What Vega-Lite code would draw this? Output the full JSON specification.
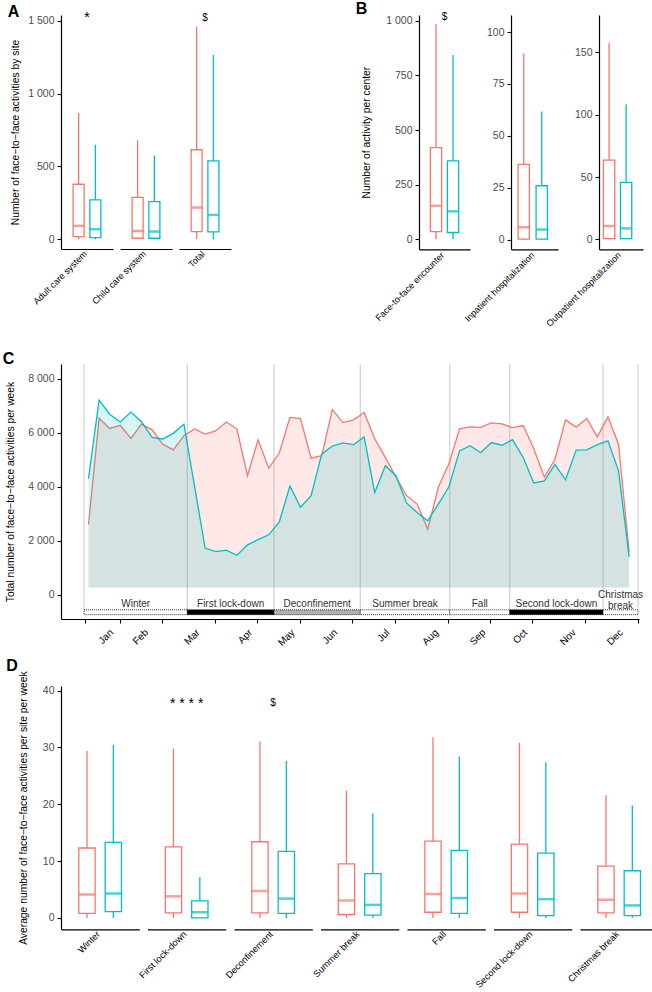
{
  "$schema": "https://vega.github.io/schema/vega-lite/v6.json",
  "padding": {"left": 2, "top": 1, "right": 0, "bottom": 0},
  "config": {
    "view": {"stroke": null},
    "font": "Liberation Sans",
    "axis": {"domainColor": "black", "domainWidth": 1.2, "tickColor": "black", "tickWidth": 1.1, "tickSize": 4, "labelColor": "#4D4D4D", "labelFontSize": 10.5, "labelPadding": 3, "titleColor": "black", "titleFontWeight": "normal", "titleFontSize": 10.3, "grid": false},
    "axisBand": {"labels": false, "ticks": false, "domain": true, "titleAngle": -45, "titleAlign": "right", "titleBaseline": "alphabetic", "titleAnchor": "middle", "titleFontSize": 9, "titleColor": "black", "titlePadding": 5},
    "title": {"fontSize": 16, "fontWeight": "bold", "anchor": "start", "frame": "bounds", "color": "black"}
  },
  "datasets": {
    "A": [
      {"group": "Adult care system", "series": "2019", "min": 0, "q1": 18, "median": 92, "q3": 378, "max": 867, "sig": "*"},
      {"group": "Adult care system", "series": "2020", "min": 0, "q1": 11, "median": 69, "q3": 271, "max": 649, "sig": ""},
      {"group": "Child care system", "series": "2019", "min": 0, "q1": 7, "median": 57, "q3": 287, "max": 681, "sig": ""},
      {"group": "Child care system", "series": "2020", "min": 0, "q1": 7, "median": 53, "q3": 259, "max": 575, "sig": ""},
      {"group": "Total", "series": "2019", "min": 0, "q1": 53, "median": 218, "q3": 615, "max": 1461, "sig": "$"},
      {"group": "Total", "series": "2020", "min": 0, "q1": 50, "median": 167, "q3": 539, "max": 1266, "sig": ""}
    ],
    "B": [
      {"panel": "Face-to-face encounter", "series": "2019", "min": 0, "q1": 35, "median": 153, "q3": 420, "max": 986, "sig": "$"},
      {"panel": "Face-to-face encounter", "series": "2020", "min": 0, "q1": 31, "median": 128, "q3": 359, "max": 844, "sig": ""},
      {"panel": "Inpatient hospitalization", "series": "2019", "min": 0, "q1": 0.3, "median": 6.0, "q3": 36.3, "max": 89.8, "sig": ""},
      {"panel": "Inpatient hospitalization", "series": "2020", "min": 0, "q1": 0.3, "median": 4.9, "q3": 26.0, "max": 61.8, "sig": ""},
      {"panel": "Outpatient hospitalization", "series": "2019", "min": 0, "q1": 0.5, "median": 10.7, "q3": 63.6, "max": 157.8, "sig": ""},
      {"panel": "Outpatient hospitalization", "series": "2020", "min": 0, "q1": 0.5, "median": 8.8, "q3": 45.7, "max": 108.3, "sig": ""}
    ],
    "C": [
      {"week": 1, "series": "2019", "value": 2600}, {"week": 2, "series": "2019", "value": 6540}, {"week": 3, "series": "2019", "value": 6160}, {"week": 4, "series": "2019", "value": 6280},
      {"week": 5, "series": "2019", "value": 5790}, {"week": 6, "series": "2019", "value": 6320}, {"week": 7, "series": "2019", "value": 6110}, {"week": 8, "series": "2019", "value": 5580},
      {"week": 9, "series": "2019", "value": 5370}, {"week": 10, "series": "2019", "value": 5890}, {"week": 11, "series": "2019", "value": 6140}, {"week": 12, "series": "2019", "value": 5950},
      {"week": 13, "series": "2019", "value": 6070}, {"week": 14, "series": "2019", "value": 6400}, {"week": 15, "series": "2019", "value": 6140}, {"week": 16, "series": "2019", "value": 4410},
      {"week": 17, "series": "2019", "value": 5740}, {"week": 18, "series": "2019", "value": 4690}, {"week": 19, "series": "2019", "value": 5250}, {"week": 20, "series": "2019", "value": 6570},
      {"week": 21, "series": "2019", "value": 6530}, {"week": 22, "series": "2019", "value": 5060}, {"week": 23, "series": "2019", "value": 5150}, {"week": 24, "series": "2019", "value": 6860},
      {"week": 25, "series": "2019", "value": 6380}, {"week": 26, "series": "2019", "value": 6480}, {"week": 27, "series": "2019", "value": 6750}, {"week": 28, "series": "2019", "value": 5780},
      {"week": 29, "series": "2019", "value": 5090}, {"week": 30, "series": "2019", "value": 4370}, {"week": 31, "series": "2019", "value": 3670}, {"week": 32, "series": "2019", "value": 3360},
      {"week": 33, "series": "2019", "value": 2430}, {"week": 34, "series": "2019", "value": 3980}, {"week": 35, "series": "2019", "value": 4850}, {"week": 36, "series": "2019", "value": 6150},
      {"week": 37, "series": "2019", "value": 6220}, {"week": 38, "series": "2019", "value": 6200}, {"week": 39, "series": "2019", "value": 6370}, {"week": 40, "series": "2019", "value": 6330},
      {"week": 41, "series": "2019", "value": 6190}, {"week": 42, "series": "2019", "value": 6270}, {"week": 43, "series": "2019", "value": 5420}, {"week": 44, "series": "2019", "value": 4360},
      {"week": 45, "series": "2019", "value": 5010}, {"week": 46, "series": "2019", "value": 6480}, {"week": 47, "series": "2019", "value": 6210}, {"week": 48, "series": "2019", "value": 6530},
      {"week": 49, "series": "2019", "value": 5850}, {"week": 50, "series": "2019", "value": 6590}, {"week": 51, "series": "2019", "value": 5580}, {"week": 52, "series": "2019", "value": 1600},
      {"week": 1, "series": "2020", "value": 4300}, {"week": 2, "series": "2020", "value": 7210}, {"week": 3, "series": "2020", "value": 6690}, {"week": 4, "series": "2020", "value": 6400},
      {"week": 5, "series": "2020", "value": 6770}, {"week": 6, "series": "2020", "value": 6410}, {"week": 7, "series": "2020", "value": 5830}, {"week": 8, "series": "2020", "value": 5770},
      {"week": 9, "series": "2020", "value": 5980}, {"week": 10, "series": "2020", "value": 6320}, {"week": 11, "series": "2020", "value": 4030}, {"week": 12, "series": "2020", "value": 1730},
      {"week": 13, "series": "2020", "value": 1600}, {"week": 14, "series": "2020", "value": 1650}, {"week": 15, "series": "2020", "value": 1460}, {"week": 16, "series": "2020", "value": 1850},
      {"week": 17, "series": "2020", "value": 2040}, {"week": 18, "series": "2020", "value": 2220}, {"week": 19, "series": "2020", "value": 2700}, {"week": 20, "series": "2020", "value": 4030},
      {"week": 21, "series": "2020", "value": 3240}, {"week": 22, "series": "2020", "value": 3670}, {"week": 23, "series": "2020", "value": 5210}, {"week": 24, "series": "2020", "value": 5510},
      {"week": 25, "series": "2020", "value": 5630}, {"week": 26, "series": "2020", "value": 5560}, {"week": 27, "series": "2020", "value": 5850}, {"week": 28, "series": "2020", "value": 3780},
      {"week": 29, "series": "2020", "value": 4780}, {"week": 30, "series": "2020", "value": 4410}, {"week": 31, "series": "2020", "value": 3400}, {"week": 32, "series": "2020", "value": 3050},
      {"week": 33, "series": "2020", "value": 2740}, {"week": 34, "series": "2020", "value": 3360}, {"week": 35, "series": "2020", "value": 4000}, {"week": 36, "series": "2020", "value": 5330},
      {"week": 37, "series": "2020", "value": 5520}, {"week": 38, "series": "2020", "value": 5260}, {"week": 39, "series": "2020", "value": 5640}, {"week": 40, "series": "2020", "value": 5540},
      {"week": 41, "series": "2020", "value": 5750}, {"week": 42, "series": "2020", "value": 5090}, {"week": 43, "series": "2020", "value": 4140}, {"week": 44, "series": "2020", "value": 4220},
      {"week": 45, "series": "2020", "value": 4830}, {"week": 46, "series": "2020", "value": 4260}, {"week": 47, "series": "2020", "value": 5360}, {"week": 48, "series": "2020", "value": 5370},
      {"week": 49, "series": "2020", "value": 5560}, {"week": 50, "series": "2020", "value": 5700}, {"week": 51, "series": "2020", "value": 4590}, {"week": 52, "series": "2020", "value": 1400}
    ],
    "periods": [
      {"name": "Winter", "start": 0.58, "end": 10.32, "kind": "open"},
      {"name": "First lock-down", "start": 10.32, "end": 18.5, "kind": "lock"},
      {"name": "Deconfinement", "start": 18.5, "end": 26.64, "kind": "deconf"},
      {"name": "Summer break", "start": 26.64, "end": 35.08, "kind": "open"},
      {"name": "Fall", "start": 35.08, "end": 40.74, "kind": "open"},
      {"name": "Second lock-down", "start": 40.74, "end": 49.54, "kind": "lock"},
      {"name": "Christmas\nbreak", "start": 49.54, "end": 52.84, "kind": "open"}
    ],
    "bounds": [{"pos": 0.58}, {"pos": 10.32}, {"pos": 18.5}, {"pos": 26.64}, {"pos": 35.08}, {"pos": 40.74}, {"pos": 49.54}, {"pos": 52.84}],
    "D": [
      {"group": "Winter", "series": "2019", "min": 0, "q1": 0.8, "median": 4.1, "q3": 12.3, "max": 29.4, "sig": ""},
      {"group": "Winter", "series": "2020", "min": 0, "q1": 1.1, "median": 4.3, "q3": 13.3, "max": 30.4, "sig": ""},
      {"group": "First lock-down", "series": "2019", "min": 0, "q1": 0.9, "median": 3.8, "q3": 12.5, "max": 29.8, "sig": "* * * *"},
      {"group": "First lock-down", "series": "2020", "min": 0, "q1": 0, "median": 1.0, "q3": 3.0, "max": 7.2, "sig": ""},
      {"group": "Deconfinement", "series": "2019", "min": 0, "q1": 0.9, "median": 4.75, "q3": 13.4, "max": 31.1, "sig": "$"},
      {"group": "Deconfinement", "series": "2020", "min": 0, "q1": 0.8, "median": 3.4, "q3": 11.7, "max": 27.6, "sig": ""},
      {"group": "Summer break", "series": "2019", "min": 0, "q1": 0.6, "median": 3.05, "q3": 9.5, "max": 22.4, "sig": ""},
      {"group": "Summer break", "series": "2020", "min": 0, "q1": 0.5, "median": 2.3, "q3": 7.8, "max": 18.4, "sig": ""},
      {"group": "Fall", "series": "2019", "min": 0, "q1": 1.0, "median": 4.2, "q3": 13.5, "max": 31.8, "sig": ""},
      {"group": "Fall", "series": "2020", "min": 0, "q1": 0.8, "median": 3.5, "q3": 11.9, "max": 28.4, "sig": ""},
      {"group": "Second lock-down", "series": "2019", "min": 0, "q1": 1.0, "median": 4.3, "q3": 13.0, "max": 30.8, "sig": ""},
      {"group": "Second lock-down", "series": "2020", "min": 0, "q1": 0.4, "median": 3.3, "q3": 11.4, "max": 27.4, "sig": ""},
      {"group": "Christmas break", "series": "2019", "min": 0, "q1": 0.9, "median": 3.2, "q3": 9.1, "max": 21.6, "sig": ""},
      {"group": "Christmas break", "series": "2020", "min": 0, "q1": 0.4, "median": 2.2, "q3": 8.3, "max": 19.8, "sig": ""}
    ]
  },
  "vconcat": [
    {
      "spacing": 124,
      "hconcat": [
        {
          "title": {"text": "A", "offset": -10, "dx": -3},
          "data": {"name": "A"},
          "bounds": "flush",
          "spacing": 7,
          "hconcat": [
            {"width": 52, "height": 234, "transform": [{"filter": "datum.group == 'Adult care system'"}],
             "encoding": {"x": {"field": "series", "type": "nominal", "scale": {"paddingInner": 0, "paddingOuter": 0.55}, "axis": {"title": "Adult care system"}},
               "color": {"field": "series", "type": "nominal", "scale": {"domain": ["2019", "2020"], "range": ["#F8766D", "#00BFC4"]}, "legend": null}},
             "layer": [
               {"mark": {"type": "rule", "strokeWidth": 1.3}, "encoding": {"y": {"field": "min", "type": "quantitative", "scale": {"domain": [-67, 1540.6], "nice": false, "zero": false},
                 "axis": {"title": "Number of face−to−face activities by site", "values": [0, 500, 1000, 1500], "labelExpr": "replace(format(datum.value, ','), ',', ' ')", "titlePadding": 7}}, "y2": {"field": "q1"}}},
               {"mark": {"type": "rule", "strokeWidth": 1.3}, "encoding": {"y": {"field": "q3", "type": "quantitative"}, "y2": {"field": "max"}}},
               {"mark": {"type": "bar", "filled": false, "size": 11, "strokeWidth": 1.3}, "encoding": {"y": {"field": "q1", "type": "quantitative"}, "y2": {"field": "q3"}}},
               {"mark": {"type": "tick", "size": 11, "thickness": 2.5}, "encoding": {"y": {"field": "median", "type": "quantitative"}}},
               {"transform": [{"filter": "datum.sig != ''"}], "mark": {"type": "text", "baseline": "middle", "fontSize": 15},
                "encoding": {"x": {"field": "series", "type": "nominal", "bandPosition": 1}, "y": {"datum": 1525}, "text": {"field": "sig"}, "color": {"value": "black"}}}
             ]},
            {"width": 52, "height": 234, "transform": [{"filter": "datum.group == 'Child care system'"}],
             "encoding": {"x": {"field": "series", "type": "nominal", "scale": {"paddingInner": 0, "paddingOuter": 0.55}, "axis": {"title": "Child care system"}},
               "color": {"field": "series", "type": "nominal", "scale": {"domain": ["2019", "2020"], "range": ["#F8766D", "#00BFC4"]}, "legend": null}},
             "layer": [
               {"mark": {"type": "rule", "strokeWidth": 1.3}, "encoding": {"y": {"field": "min", "type": "quantitative", "scale": {"domain": [-67, 1540.6], "nice": false, "zero": false}, "axis": null}, "y2": {"field": "q1"}}},
               {"mark": {"type": "rule", "strokeWidth": 1.3}, "encoding": {"y": {"field": "q3", "type": "quantitative"}, "y2": {"field": "max"}}},
               {"mark": {"type": "bar", "filled": false, "size": 11, "strokeWidth": 1.3}, "encoding": {"y": {"field": "q1", "type": "quantitative"}, "y2": {"field": "q3"}}},
               {"mark": {"type": "tick", "size": 11, "thickness": 2.5}, "encoding": {"y": {"field": "median", "type": "quantitative"}}}
             ]},
            {"width": 52, "height": 234, "transform": [{"filter": "datum.group == 'Total'"}],
             "encoding": {"x": {"field": "series", "type": "nominal", "scale": {"paddingInner": 0, "paddingOuter": 0.55}, "axis": {"title": "Total"}},
               "color": {"field": "series", "type": "nominal", "scale": {"domain": ["2019", "2020"], "range": ["#F8766D", "#00BFC4"]}, "legend": null}},
             "layer": [
               {"mark": {"type": "rule", "strokeWidth": 1.3}, "encoding": {"y": {"field": "min", "type": "quantitative", "scale": {"domain": [-67, 1540.6], "nice": false, "zero": false}, "axis": null}, "y2": {"field": "q1"}}},
               {"mark": {"type": "rule", "strokeWidth": 1.3}, "encoding": {"y": {"field": "q3", "type": "quantitative"}, "y2": {"field": "max"}}},
               {"mark": {"type": "bar", "filled": false, "size": 11, "strokeWidth": 1.3}, "encoding": {"y": {"field": "q1", "type": "quantitative"}, "y2": {"field": "q3"}}},
               {"mark": {"type": "tick", "size": 11, "thickness": 2.5}, "encoding": {"y": {"field": "median", "type": "quantitative"}}},
               {"transform": [{"filter": "datum.sig != ''"}], "mark": {"type": "text", "baseline": "middle", "fontSize": 10},
                "encoding": {"x": {"field": "series", "type": "nominal", "bandPosition": 1}, "y": {"datum": 1521}, "text": {"field": "sig"}, "color": {"value": "black"}}}
             ]}
          ]
        },
        {
          "title": {"text": "B", "offset": -5, "dx": -6},
          "data": {"name": "B"},
          "bounds": "flush",
          "spacing": 41,
          "hconcat": [
            {"width": 51, "height": 234.3, "transform": [{"filter": "datum.panel == 'Face-to-face encounter'"}],
             "encoding": {"x": {"field": "series", "type": "nominal", "scale": {"paddingInner": 0, "paddingOuter": 0.5, "align": 0.5}, "axis": {"title": "Face-to-face encounter", "titlePadding": 6}},
               "color": {"field": "series", "type": "nominal", "scale": {"domain": ["2019", "2020"], "range": ["#F8766D", "#00BFC4"]}, "legend": null}},
             "layer": [
               {"mark": {"type": "rule", "strokeWidth": 1.3}, "encoding": {"y": {"field": "min", "type": "quantitative", "scale": {"domain": [-46, 1027], "nice": false, "zero": false},
                 "axis": {"title": "Number of activity per center", "values": [0, 250, 500, 750, 1000], "labelExpr": "replace(format(datum.value, ','), ',', ' ')", "titlePadding": 14}}, "y2": {"field": "q1"}}},
               {"mark": {"type": "rule", "strokeWidth": 1.3}, "encoding": {"y": {"field": "q3", "type": "quantitative"}, "y2": {"field": "max"}}},
               {"mark": {"type": "bar", "filled": false, "size": 11.3, "strokeWidth": 1.3}, "encoding": {"y": {"field": "q1", "type": "quantitative"}, "y2": {"field": "q3"}}},
               {"mark": {"type": "tick", "size": 11.3, "thickness": 2.5}, "encoding": {"y": {"field": "median", "type": "quantitative"}}},
               {"transform": [{"filter": "datum.sig != ''"}], "mark": {"type": "text", "baseline": "middle", "fontSize": 10},
                "encoding": {"x": {"field": "series", "type": "nominal", "bandPosition": 1}, "y": {"datum": 1017}, "text": {"field": "sig"}, "color": {"value": "black"}}}
             ]},
            {"width": 47, "height": 234.3, "transform": [{"filter": "datum.panel == 'Inpatient hospitalization'"}],
             "encoding": {"x": {"field": "series", "type": "nominal", "scale": {"paddingInner": 0, "paddingOuter": 0.306, "align": 0.34}, "axis": {"title": "Inpatient hospitalization", "titlePadding": 6}},
               "color": {"field": "series", "type": "nominal", "scale": {"domain": ["2019", "2020"], "range": ["#F8766D", "#00BFC4"]}, "legend": null}},
             "layer": [
               {"mark": {"type": "rule", "strokeWidth": 1.3}, "encoding": {"y": {"field": "min", "type": "quantitative", "scale": {"domain": [-4.6, 108.2], "nice": false, "zero": false},
                 "axis": {"title": null, "values": [0, 25, 50, 75, 100]}}, "y2": {"field": "q1"}}},
               {"mark": {"type": "rule", "strokeWidth": 1.3}, "encoding": {"y": {"field": "q3", "type": "quantitative"}, "y2": {"field": "max"}}},
               {"mark": {"type": "bar", "filled": false, "size": 11.3, "strokeWidth": 1.3}, "encoding": {"y": {"field": "q1", "type": "quantitative"}, "y2": {"field": "q3"}}},
               {"mark": {"type": "tick", "size": 11.3, "thickness": 2.5}, "encoding": {"y": {"field": "median", "type": "quantitative"}}}
             ]},
            {"width": 44, "height": 234.3, "transform": [{"filter": "datum.panel == 'Outpatient hospitalization'"}],
             "encoding": {"x": {"field": "series", "type": "nominal", "scale": {"paddingInner": 0, "paddingOuter": 0.294, "align": 0.16}, "axis": {"title": "Outpatient hospitalization", "titlePadding": 6}},
               "color": {"field": "series", "type": "nominal", "scale": {"domain": ["2019", "2020"], "range": ["#F8766D", "#00BFC4"]}, "legend": null}},
             "layer": [
               {"mark": {"type": "rule", "strokeWidth": 1.3}, "encoding": {"y": {"field": "min", "type": "quantitative", "scale": {"domain": [-8, 180], "nice": false, "zero": false},
                 "axis": {"title": null, "values": [0, 50, 100, 150]}}, "y2": {"field": "q1"}}},
               {"mark": {"type": "rule", "strokeWidth": 1.3}, "encoding": {"y": {"field": "q3", "type": "quantitative"}, "y2": {"field": "max"}}},
               {"mark": {"type": "bar", "filled": false, "size": 11.3, "strokeWidth": 1.3}, "encoding": {"y": {"field": "q1", "type": "quantitative"}, "y2": {"field": "q3"}}},
               {"mark": {"type": "tick", "size": 11.3, "thickness": 2.5}, "encoding": {"y": {"field": "median", "type": "quantitative"}}}
             ]}
          ]
        }
      ]
    },
    {
      "spacing": 9,
      "vconcat": [
        {
          "title": {"text": "C", "offset": -3.5, "dx": -3},
          "width": 578, "height": 255,
          "layer": [
            {"data": {"name": "bounds"},
             "mark": {"type": "rule", "color": "#D4D4D4", "strokeWidth": 1.3},
             "encoding": {
               "x": {"field": "pos", "type": "quantitative", "scale": {"domain": [-1.594, 52.93], "nice": false, "zero": false},
                 "axis": {"title": null, "values": [0.64, 3.94, 7.96, 12.91, 16.92, 20.92, 25.86, 29.89, 34.92, 38.85, 42.87, 47.87, 52.84],
                   "labelExpr": "['Jan','Feb','Mar','Apr','May','Jun','Jul','Aug','Sep','Oct','Nov','Dec',''][indexof([0,3,7,12,16,20,25,29,34,38,42,47,52], floor(datum.value))]",
                   "labelAngle": -45, "labelAlign": "right", "labelBaseline": "top", "labelFontSize": 10, "labelColor": "black", "labelPadding": 4,
                   "labelOffset": {"condition": [{"test": "datum.value < 5", "value": 23}, {"test": "floor(datum.value) == 29 || floor(datum.value) == 42", "value": 38}], "value": 32}}},
               "y": {"datum": -556, "type": "quantitative", "scale": {"domain": [-900, 8550], "nice": false, "zero": false},
                 "axis": {"title": "Total number of  face−to−face activities per week", "values": [0, 1000, 2000, 3000, 4000, 5000, 6000, 7000, 8000], "labelExpr": "replace(format(datum.value, ','), ',', ' ')", "titlePadding": 12}},
               "y2": {"datum": 8550}}},
            {"data": {"name": "C"}, "transform": [{"filter": "datum.series == '2019'"}],
             "mark": {"type": "area", "color": "#F8766D", "opacity": 0.16},
             "encoding": {"x": {"field": "week", "type": "quantitative"}, "y": {"field": "value", "type": "quantitative"}, "y2": {"datum": 270}}},
            {"data": {"name": "C"}, "transform": [{"filter": "datum.series == '2019'"}],
             "mark": {"type": "line", "color": "#F8766D", "strokeWidth": 1.3},
             "encoding": {"x": {"field": "week", "type": "quantitative"}, "y": {"field": "value", "type": "quantitative"}}},
            {"data": {"name": "C"}, "transform": [{"filter": "datum.series == '2020'"}],
             "mark": {"type": "area", "color": "#00BFC4", "opacity": 0.16},
             "encoding": {"x": {"field": "week", "type": "quantitative"}, "y": {"field": "value", "type": "quantitative"}, "y2": {"datum": 270}}},
            {"data": {"name": "C"}, "transform": [{"filter": "datum.series == '2020'"}],
             "mark": {"type": "line", "color": "#00BFC4", "strokeWidth": 1.3},
             "encoding": {"x": {"field": "week", "type": "quantitative"}, "y": {"field": "value", "type": "quantitative"}}},
            {"data": {"name": "periods"},
             "mark": {"type": "rect", "stroke": "black", "strokeWidth": 0.8, "strokeDash": [1, 1]},
             "encoding": {"x": {"field": "start", "type": "quantitative"}, "x2": {"field": "end"}, "y": {"datum": -560}, "y2": {"datum": -740},
               "fill": {"field": "kind", "type": "nominal", "scale": {"domain": ["open", "lock", "deconf"], "range": ["white", "black", "#B0B0B0"]}, "legend": null}}},
            {"data": {"name": "periods"}, "transform": [{"filter": "datum.end < 52"}, {"calculate": "(datum.start + datum.end) / 2", "as": "mid"}],
             "mark": {"type": "text", "baseline": "bottom", "fontSize": 10, "color": "#333333"},
             "encoding": {"x": {"field": "mid", "type": "quantitative"}, "y": {"datum": -534}, "text": {"field": "name"}}},
            {"data": {"name": "periods"}, "transform": [{"filter": "datum.end > 52"}, {"calculate": "(datum.start + datum.end) / 2", "as": "mid"}],
             "mark": {"type": "text", "baseline": "bottom", "fontSize": 10, "color": "#333333", "lineBreak": "\n", "lineHeight": 10.5},
             "encoding": {"x": {"field": "mid", "type": "quantitative"}, "y": {"datum": -200}, "text": {"field": "name"}}}
          ]
        },
        {
          "title": {"text": "D", "offset": -3, "dx": -12},
          "data": {"name": "D"},
          "bounds": "flush",
          "spacing": 7.5,
          "hconcat": [
            {"width": 78.3, "height": 243.3, "transform": [{"filter": "datum.group == 'Winter'"}],
             "encoding": {"x": {"field": "series", "type": "nominal", "scale": {"paddingInner": 0, "paddingOuter": 0.485}, "axis": {"title": "Winter", "titleFontSize": 9.3}},
               "color": {"field": "series", "type": "nominal", "scale": {"domain": ["2019", "2020"], "range": ["#F8766D", "#00BFC4"]}, "legend": null}},
             "layer": [
               {"mark": {"type": "rule", "strokeWidth": 1.3}, "encoding": {"y": {"field": "min", "type": "quantitative", "scale": {"domain": [-2.0, 40.8], "nice": false, "zero": false},
                 "axis": {"title": "Average number of face−to−face activities per site per week", "values": [0, 10, 20, 30, 40], "titlePadding": 14}}, "y2": {"field": "q1"}}},
               {"mark": {"type": "rule", "strokeWidth": 1.3}, "encoding": {"y": {"field": "q3", "type": "quantitative"}, "y2": {"field": "max"}}},
               {"mark": {"type": "bar", "filled": false, "size": 16.3, "strokeWidth": 1.3}, "encoding": {"y": {"field": "q1", "type": "quantitative"}, "y2": {"field": "q3"}}},
               {"mark": {"type": "tick", "size": 16.3, "thickness": 2.5}, "encoding": {"y": {"field": "median", "type": "quantitative"}}}
             ]},
            {"width": 78.3, "height": 243.3, "transform": [{"filter": "datum.group == 'First lock-down'"}],
             "encoding": {"x": {"field": "series", "type": "nominal", "scale": {"paddingInner": 0, "paddingOuter": 0.485}, "axis": {"title": "First lock-down", "titleFontSize": 9.3}},
               "color": {"field": "series", "type": "nominal", "scale": {"domain": ["2019", "2020"], "range": ["#F8766D", "#00BFC4"]}, "legend": null}},
             "layer": [
               {"mark": {"type": "rule", "strokeWidth": 1.3}, "encoding": {"y": {"field": "min", "type": "quantitative", "scale": {"domain": [-2.0, 40.8], "nice": false, "zero": false}, "axis": null}, "y2": {"field": "q1"}}},
               {"mark": {"type": "rule", "strokeWidth": 1.3}, "encoding": {"y": {"field": "q3", "type": "quantitative"}, "y2": {"field": "max"}}},
               {"mark": {"type": "bar", "filled": false, "size": 16.3, "strokeWidth": 1.3}, "encoding": {"y": {"field": "q1", "type": "quantitative"}, "y2": {"field": "q3"}}},
               {"mark": {"type": "tick", "size": 16.3, "thickness": 2.5}, "encoding": {"y": {"field": "median", "type": "quantitative"}}},
               {"transform": [{"filter": "datum.sig != ''"}], "mark": {"type": "text", "baseline": "middle", "fontSize": 14},
                "encoding": {"x": {"field": "series", "type": "nominal", "bandPosition": 1}, "y": {"datum": 37.6}, "text": {"field": "sig"}, "color": {"value": "black"}}}
             ]},
            {"width": 78.3, "height": 243.3, "transform": [{"filter": "datum.group == 'Deconfinement'"}],
             "encoding": {"x": {"field": "series", "type": "nominal", "scale": {"paddingInner": 0, "paddingOuter": 0.485}, "axis": {"title": "Deconfinement", "titleFontSize": 9.3}},
               "color": {"field": "series", "type": "nominal", "scale": {"domain": ["2019", "2020"], "range": ["#F8766D", "#00BFC4"]}, "legend": null}},
             "layer": [
               {"mark": {"type": "rule", "strokeWidth": 1.3}, "encoding": {"y": {"field": "min", "type": "quantitative", "scale": {"domain": [-2.0, 40.8], "nice": false, "zero": false}, "axis": null}, "y2": {"field": "q1"}}},
               {"mark": {"type": "rule", "strokeWidth": 1.3}, "encoding": {"y": {"field": "q3", "type": "quantitative"}, "y2": {"field": "max"}}},
               {"mark": {"type": "bar", "filled": false, "size": 16.3, "strokeWidth": 1.3}, "encoding": {"y": {"field": "q1", "type": "quantitative"}, "y2": {"field": "q3"}}},
               {"mark": {"type": "tick", "size": 16.3, "thickness": 2.5}, "encoding": {"y": {"field": "median", "type": "quantitative"}}},
               {"transform": [{"filter": "datum.sig != ''"}], "mark": {"type": "text", "baseline": "middle", "fontSize": 10},
                "encoding": {"x": {"field": "series", "type": "nominal", "bandPosition": 1}, "y": {"datum": 37.8}, "text": {"field": "sig"}, "color": {"value": "black"}}}
             ]},
            {"width": 78.3, "height": 243.3, "transform": [{"filter": "datum.group == 'Summer break'"}],
             "encoding": {"x": {"field": "series", "type": "nominal", "scale": {"paddingInner": 0, "paddingOuter": 0.485}, "axis": {"title": "Summer break", "titleFontSize": 9.3}},
               "color": {"field": "series", "type": "nominal", "scale": {"domain": ["2019", "2020"], "range": ["#F8766D", "#00BFC4"]}, "legend": null}},
             "layer": [
               {"mark": {"type": "rule", "strokeWidth": 1.3}, "encoding": {"y": {"field": "min", "type": "quantitative", "scale": {"domain": [-2.0, 40.8], "nice": false, "zero": false}, "axis": null}, "y2": {"field": "q1"}}},
               {"mark": {"type": "rule", "strokeWidth": 1.3}, "encoding": {"y": {"field": "q3", "type": "quantitative"}, "y2": {"field": "max"}}},
               {"mark": {"type": "bar", "filled": false, "size": 16.3, "strokeWidth": 1.3}, "encoding": {"y": {"field": "q1", "type": "quantitative"}, "y2": {"field": "q3"}}},
               {"mark": {"type": "tick", "size": 16.3, "thickness": 2.5}, "encoding": {"y": {"field": "median", "type": "quantitative"}}}
             ]},
            {"width": 78.3, "height": 243.3, "transform": [{"filter": "datum.group == 'Fall'"}],
             "encoding": {"x": {"field": "series", "type": "nominal", "scale": {"paddingInner": 0, "paddingOuter": 0.485}, "axis": {"title": "Fall", "titleFontSize": 9.3}},
               "color": {"field": "series", "type": "nominal", "scale": {"domain": ["2019", "2020"], "range": ["#F8766D", "#00BFC4"]}, "legend": null}},
             "layer": [
               {"mark": {"type": "rule", "strokeWidth": 1.3}, "encoding": {"y": {"field": "min", "type": "quantitative", "scale": {"domain": [-2.0, 40.8], "nice": false, "zero": false}, "axis": null}, "y2": {"field": "q1"}}},
               {"mark": {"type": "rule", "strokeWidth": 1.3}, "encoding": {"y": {"field": "q3", "type": "quantitative"}, "y2": {"field": "max"}}},
               {"mark": {"type": "bar", "filled": false, "size": 16.3, "strokeWidth": 1.3}, "encoding": {"y": {"field": "q1", "type": "quantitative"}, "y2": {"field": "q3"}}},
               {"mark": {"type": "tick", "size": 16.3, "thickness": 2.5}, "encoding": {"y": {"field": "median", "type": "quantitative"}}}
             ]},
            {"width": 78.3, "height": 243.3, "transform": [{"filter": "datum.group == 'Second lock-down'"}],
             "encoding": {"x": {"field": "series", "type": "nominal", "scale": {"paddingInner": 0, "paddingOuter": 0.485}, "axis": {"title": "Second lock-down", "titleFontSize": 9.3}},
               "color": {"field": "series", "type": "nominal", "scale": {"domain": ["2019", "2020"], "range": ["#F8766D", "#00BFC4"]}, "legend": null}},
             "layer": [
               {"mark": {"type": "rule", "strokeWidth": 1.3}, "encoding": {"y": {"field": "min", "type": "quantitative", "scale": {"domain": [-2.0, 40.8], "nice": false, "zero": false}, "axis": null}, "y2": {"field": "q1"}}},
               {"mark": {"type": "rule", "strokeWidth": 1.3}, "encoding": {"y": {"field": "q3", "type": "quantitative"}, "y2": {"field": "max"}}},
               {"mark": {"type": "bar", "filled": false, "size": 16.3, "strokeWidth": 1.3}, "encoding": {"y": {"field": "q1", "type": "quantitative"}, "y2": {"field": "q3"}}},
               {"mark": {"type": "tick", "size": 16.3, "thickness": 2.5}, "encoding": {"y": {"field": "median", "type": "quantitative"}}}
             ]},
            {"width": 78.3, "height": 243.3, "transform": [{"filter": "datum.group == 'Christmas break'"}],
             "encoding": {"x": {"field": "series", "type": "nominal", "scale": {"paddingInner": 0, "paddingOuter": 0.485}, "axis": {"title": "Christmas break", "titleFontSize": 9.3}},
               "color": {"field": "series", "type": "nominal", "scale": {"domain": ["2019", "2020"], "range": ["#F8766D", "#00BFC4"]}, "legend": null}},
             "layer": [
               {"mark": {"type": "rule", "strokeWidth": 1.3}, "encoding": {"y": {"field": "min", "type": "quantitative", "scale": {"domain": [-2.0, 40.8], "nice": false, "zero": false}, "axis": null}, "y2": {"field": "q1"}}},
               {"mark": {"type": "rule", "strokeWidth": 1.3}, "encoding": {"y": {"field": "q3", "type": "quantitative"}, "y2": {"field": "max"}}},
               {"mark": {"type": "bar", "filled": false, "size": 16.3, "strokeWidth": 1.3}, "encoding": {"y": {"field": "q1", "type": "quantitative"}, "y2": {"field": "q3"}}},
               {"mark": {"type": "tick", "size": 16.3, "thickness": 2.5}, "encoding": {"y": {"field": "median", "type": "quantitative"}}}
             ]}
          ]
        }
      ]
    }
  ],
  "spacing": 21
}
